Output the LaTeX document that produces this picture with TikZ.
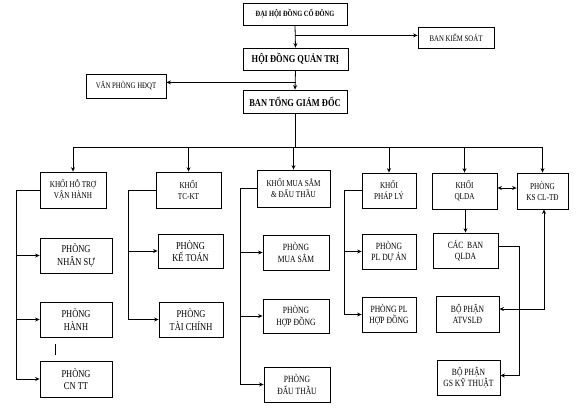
\documentclass[tikz,border=0pt]{standalone}
\usepackage{fontspec}
\setmainfont{Liberation Serif}[FakeStretch=0.8]
\usetikzlibrary{arrows.meta,calc}
\tikzset{
  box/.style={draw, line width=0.8pt, inner sep=0pt, align=center, text=black},
  ln/.style={line width=0.8pt},
  conn/.style={line width=0.8pt, -{Stealth[length=4.5pt,width=4pt]}},
  dconn/.style={line width=0.8pt, {Stealth[length=4.5pt,width=4pt]}-{Stealth[length=4.5pt,width=4pt]}},
  topf/.style={font=\bfseries\fontsize{8}{9}\selectfont},
  bigf/.style={font=\bfseries\fontsize{10.5}{12}\selectfont},
  smallf/.style={font=\fontsize{8.5}{9.5}\selectfont},
  khoif/.style={font=\fontsize{9}{11}\selectfont},
  phongf/.style={font=\fontsize{10.5}{12.5}\selectfont},
  phongs/.style={font=\fontsize{9.5}{11.5}\selectfont},
}
\newcommand\boxat[7]{\node[box,#6,minimum width={#3pt-#2pt},minimum height={#5pt-#4pt}] (#1) at ({(#2+#3)/2},{(#4+#5)/2}) {#7};}
\begin{document}
\begin{tikzpicture}[x=1pt,y=-1pt]
\useasboundingbox (0,0) rectangle (586,413);
% top level
\boxat{dh}{243}{347}{3}{25}{topf}{ĐẠI HỘI ĐỒNG CỔ ĐÔNG}
\boxat{hd}{243}{348}{48}{70}{bigf}{HỘI ĐỒNG QUẢN TRỊ}
\boxat{tg}{243}{347}{90}{113}{bigf}{BAN TỔNG GIÁM ĐỐC}
\boxat{bks}{418}{494}{27}{48}{smallf}{BAN KIỂM SOÁT}
\boxat{vp}{86}{166}{74}{98}{smallf}{VĂN PHÒNG HĐQT}
% khoi
\boxat{k1}{40}{106}{172}{208}{khoif}{KHỐI HỖ TRỢ\\VẬN HÀNH}
\boxat{k2}{156}{221}{172}{208}{khoif}{KHỐI\\TC-KT}
\boxat{k3}{257}{330}{170}{207}{khoif}{KHỐI MUA SẮM\\\& ĐẤU THẦU}
\boxat{k4}{362}{416}{173}{208}{khoif}{KHỐI\\PHÁP LÝ}
\boxat{k5}{432}{497}{173}{209}{khoif}{KHỐI\\QLDA}
\boxat{k6}{517}{568}{173}{209}{khoif}{PHÒNG\\KS CL-TĐ}
% phong
\boxat{p11}{40}{112}{238}{273}{phongf}{PHÒNG\\NHÂN SỰ}
\boxat{p12}{40}{112}{302}{337}{phongf}{PHÒNG\\HÀNH}
\boxat{p13}{40}{112}{361}{397}{phongf}{PHÒNG\\CN TT}
\boxat{p21}{158}{223}{234}{268}{phongf}{PHÒNG\\KẾ TOÁN}
\boxat{p22}{159}{223}{302}{337}{phongf}{PHÒNG\\TÀI CHÍNH}
\boxat{p31}{263}{329}{235}{270}{phongs}{PHÒNG\\MUA SẮM}
\boxat{p32}{263}{329}{299}{333}{phongs}{PHÒNG\\HỢP ĐỒNG}
\boxat{p33}{264}{330}{367}{402}{phongs}{PHÒNG\\ĐẤU THẦU}
\boxat{p41}{362}{416}{234}{269}{phongs}{PHÒNG\\PL DỰ ÁN}
\boxat{p42}{362}{416}{297}{332}{phongs}{PHÒNG PL\\HỢP ĐỒNG}
\boxat{cb}{433}{498}{233}{268}{phongs}{CÁC\ \ BAN\\QLDA}
\boxat{atv}{436}{499}{296}{332}{phongs}{BỘ PHẬN\\ATVSLĐ}
\boxat{gs}{437}{500}{360}{395}{phongs}{BỘ PHẬN\\GS KỸ THUẬT}
% top connectors
\coordinate (b1) at ($(dh.south)+(0,10)$);
\coordinate (b2) at ($(hd.south)+(0,12)$);
\draw[conn] (dh.south) -- (hd.north);
\draw[conn] (b1) -- (b1 -| bks.west);
\draw[conn] (hd.south) -- (tg.north);
\draw[conn] (b2) -- (b2 -| vp.east);
% bus
\coordinate (bus) at (0,147);
\draw[ln] (tg.south) -- (tg.south |- bus);
\draw[ln] (k1.north |- bus) -- (k6.north |- bus);
\foreach \k in {k1,k2,k3,k4,k5,k6} \draw[conn] (\k.north |- bus) -- (\k.north);
% spines
\coordinate (s1) at (16,0);
\coordinate (s2) at (128,0);
\coordinate (s3) at (240,0);
\coordinate (s4) at (344,0);
\draw[ln] (k1.west) -- (k1.west -| s1) -- (s1 |- p13.west);
\foreach \p in {p11,p12,p13} \draw[conn] (s1 |- \p.west) -- (\p.west);
\draw[ln] (k2.west) -- (k2.west -| s2) -- (s2 |- p22.west);
\foreach \p in {p21,p22} \draw[conn] (s2 |- \p.west) -- (\p.west);
\draw[ln] (k3.west) -- (k3.west -| s3) -- (s3 |- p33.west);
\foreach \p in {p31,p32,p33} \draw[conn] (s3 |- \p.west) -- (\p.west);
\draw[ln] (k4.west) -- (k4.west -| s4) -- (s4 |- p42.west);
\foreach \p in {p41,p42} \draw[conn] (s4 |- \p.west) -- (\p.west);
% QLDA part
\draw[dconn] ($(k5.east)+(0,-3)$) -- ($(k6.west)+(0,-3)$);
\draw[conn] (k5.south -| cb.north) -- (cb.north);
\coordinate (c1) at ($(cb.east)+(0,-4)$);
\coordinate (c2) at ($(gs.east)+(0,-2)$);
\draw[conn] (c1) -- (c1 -| 519,0) -- (c2 -| 519,0) -- (c2);
\coordinate (a1) at ($(atv.east)+(0,-5)$);
\draw[dconn] (a1) -- (a1 -| 544,0) -- (544,0 |- k6.south);
% stray tick
\draw[line width=0.6pt] (55,344) -- (55,355);
\end{tikzpicture}
\end{document}
